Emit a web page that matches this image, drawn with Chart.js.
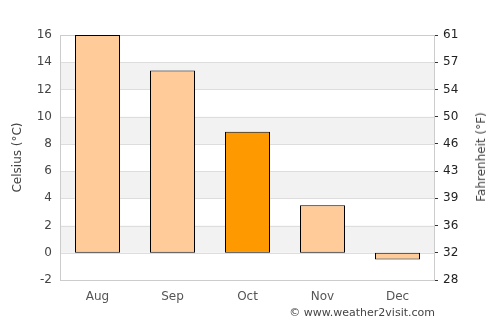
<!DOCTYPE html>
<html lang="en">
<head>
    <meta charset="UTF-8">
    <title>Average temperature</title>
    <script src="https://cdn.jsdelivr.net/npm/chart.js"></script>
    <style>
        body {
            margin: 0;
            background: white;
            font-family: "DejaVu Sans", sans-serif;
        }
        #wrap {
            position: relative;
            width: 500px;
            height: 325px;
        }
        #credit {
            position: absolute;
            right: 65px;
            top: 306px;
            font-size: 11px;
            color: #444;
        }
        #ftitle {
            position: absolute;
            left: 481px;
            top: 157px;
            font-size: 12px;
            color: #444;
            white-space: nowrap;
            transform: translate(-50%, -50%) rotate(-90deg);
        }
    </style>
</head>
<body>
    <div id="wrap">
        <canvas id="chart" width="500" height="325"></canvas>
        <div id="ftitle">Fahrenheit (°F)</div>
        <div id="credit">© www.weather2visit.com</div>
    </div>

    <script>
        const months = ['Aug', 'Sep', 'Oct', 'Nov', 'Dec'];
        const celsius = [16, 13.4, 8.9, 3.5, -0.5];
        const barColors = ['#ffcc99', '#ffcc99', '#ff9900', '#ffcc99', '#ffcc99'];
        const yMin = -2;
        const yMax = 16;

        // gray bands between every other pair of gridlines
        const bands = {
            id: 'bands',
            beforeDatasetsDraw(chart) {
                const { ctx, chartArea, scales } = chart;
                const y = scales.y;
                ctx.save();
                ctx.fillStyle = '#f2f2f2';
                for (let v = 0; v < yMax; v += 4) {
                    const top = y.getPixelForValue(v + 2);
                    const bottom = y.getPixelForValue(v);
                    ctx.fillRect(chartArea.left, top, chartArea.right - chartArea.left, bottom - top);
                }
                // redraw grid lines over the bands
                ctx.strokeStyle = '#dddddd';
                ctx.lineWidth = 1;
                for (let v = yMin; v <= yMax; v += 2) {
                    const py = Math.round(y.getPixelForValue(v)) + 0.5;
                    ctx.beginPath();
                    ctx.moveTo(chartArea.left, py);
                    ctx.lineTo(chartArea.right, py);
                    ctx.stroke();
                }
                ctx.strokeStyle = '#cccccc';
                ctx.strokeRect(chartArea.left + 0.5, chartArea.top + 0.5,
                    chartArea.right - chartArea.left - 1, chartArea.bottom - chartArea.top);
                ctx.restore();
            }
        };

        const ctx = document.getElementById('chart').getContext('2d');
        new Chart(ctx, {
            type: 'bar',
            data: {
                labels: months,
                datasets: [{
                    data: celsius,
                    backgroundColor: barColors,
                    borderColor: '#000',
                    borderWidth: 1,
                    borderSkipped: false,
                    categoryPercentage: 1,
                    barPercentage: 0.6
                }]
            },
            options: {
                responsive: false,
                animation: false,
                layout: { padding: { top: 35, bottom: 20 } },
                plugins: {
                    legend: { display: false },
                    tooltip: { enabled: false }
                },
                scales: {
                    x: {
                        grid: { display: false, drawTicks: false },
                        border: { display: false },
                        ticks: {
                            color: '#555',
                            font: { family: 'DejaVu Sans', size: 12 },
                            padding: 10
                        },
                        afterFit(s) { s.height = 25; }
                    },
                    y: {
                        position: 'left',
                        min: yMin,
                        max: yMax,
                        grid: { display: false, drawTicks: false },
                        border: { display: false },
                        ticks: {
                            stepSize: 2,
                            color: '#444',
                            padding: 8,
                            font: { family: 'DejaVu Sans', size: 12 }
                        },
                        title: {
                            display: true,
                            text: 'Celsius (°C)',
                            color: '#444',
                            font: { family: 'DejaVu Sans', size: 12 },
                            padding: { top: 11, bottom: 0 }
                        },
                        afterFit(s) { s.width = 60; }
                    },
                    y2: {
                        position: 'right',
                        min: yMin,
                        max: yMax,
                        grid: {
                            drawOnChartArea: false,
                            tickLength: 3,
                            tickColor: '#333',
                            color: '#333'
                        },
                        border: { display: false },
                        ticks: {
                            stepSize: 1,
                            color: '#222',
                            padding: 5,
                            font: { family: 'DejaVu Sans', size: 12 },
                            callback: v => (v % 2 === 0 ? String(Math.round(v * 9 / 5 + 32)) : '')
                        },
                        afterFit(s) { s.width = 65; }
                    }
                }
            },
            plugins: [bands]
        });
    </script>
</body>
</html>
